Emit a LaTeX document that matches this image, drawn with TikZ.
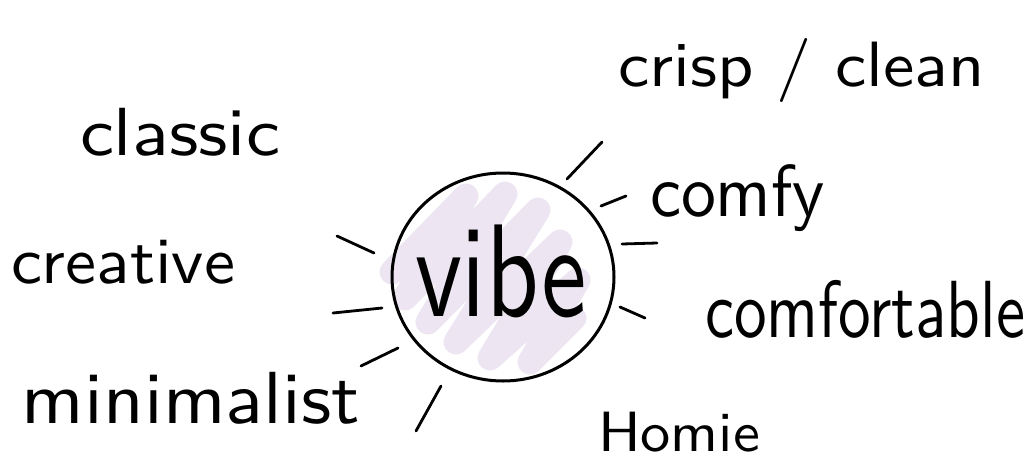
\documentclass[tikz,border=0pt]{standalone}
\usepackage{graphicx}
\definecolor{scribble}{RGB}{237,230,242}
% handwritten word, squeezed to its ink box (width, total height)
\newcommand{\hand}[3]{\resizebox*{#1pt}{#2pt}{\sffamily #3}}

\begin{document}
\begin{tikzpicture}[
  x=1pt, y=-1pt,
  % --- Styles ---
  word/.style={anchor=north west, inner sep=0pt, outer sep=0pt},
  hubline/.style={line width=3pt},
  ray/.style={line width=2.8pt, line cap=round},
  smudge/.style={draw=scribble, line width=25pt, line cap=round,
    line join=round},
]
\useasboundingbox (0,0) rectangle (1034,461);

% === SCRIBBLE ===
\draw[smudge] (392,272) -- (466,196) -- (405,298) -- (505,194) -- (428,322)
  -- (538,210) -- (456,342) -- (560,242) -- (490,358) -- (578,280)
  -- (530,362) -- (574,318);

% === CENTRE ===
\coordinate (H) at (503,277);
\draw[hubline] (H) ellipse [x radius=111, y radius=104];
\node[word] (vibe) at (415,225) {\hand{172}{93}{vibe}};

% === WORDS ===
\node[word] (crisp) at (618,38) {\hand{367}{64}{crisp / clean}};
\node[word] (classic) at (80,108) {\hand{200}{48}{classic}};
\node[word] (comfy) at (650,165) {\hand{175}{67}{comfy}};
\node[word] (creative) at (11,240) {\hand{224}{44}{creative}};
\node[word] (comfortable) at (705,280) {\hand{320}{58}{comfortable}};
\node[word] (minimalist) at (22,372) {\hand{338}{52}{minimalist}};
\node[word] (homie) at (598,412) {\hand{162}{40}{Homie}};

% === RAYS ===
\draw[ray] (567,179) -- (602,142);
\draw[ray] (601,206) -- (626,196);
\draw[ray] (622,244) -- (657,243);
\draw[ray] (620,307) -- (645,318);
\draw[ray] (337,236) -- (374,253);
\draw[ray] (333,313) -- (382,308);
\draw[ray] (361,366) -- (398,348);
\draw[ray] (416,431) -- (441,386);
\end{tikzpicture}
\end{document}
